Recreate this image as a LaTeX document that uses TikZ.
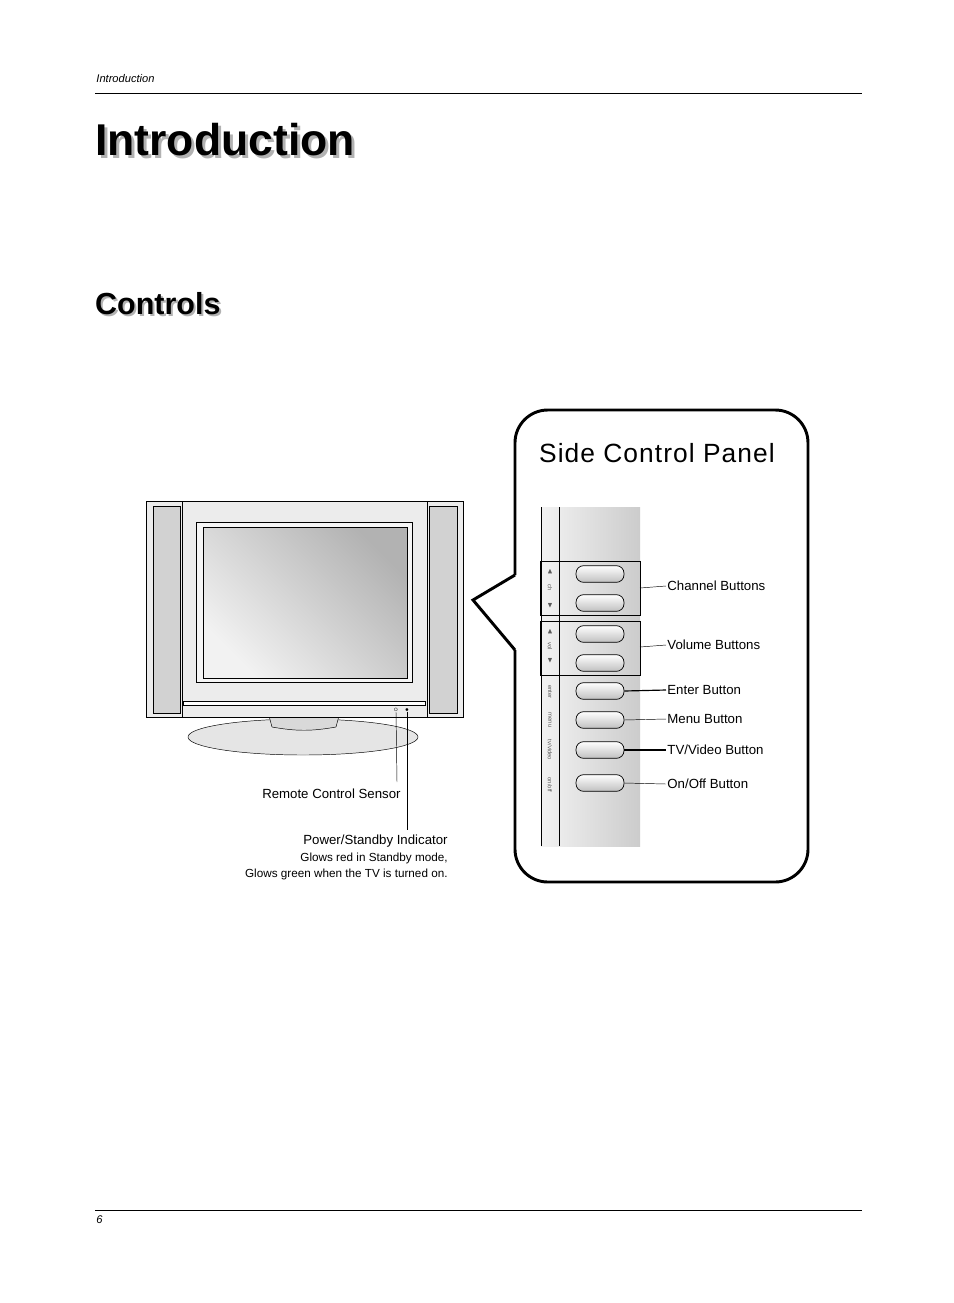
\documentclass[tikz,border=0pt]{standalone}
\usepackage{amssymb}
\usepackage{fontspec}
\setmainfont{Liberation Sans}
\begin{document}
\begin{tikzpicture}[x=0.03cm, y=-0.03cm,
        lbl/.style={font=\fontsize{11.3}{13}\selectfont, inner sep=1pt},
        small/.style={font=\fontsize{10}{12}\selectfont, inner sep=1pt},
        btn/.style={draw, rounded corners=6.5pt, minimum width=1.44cm, minimum height=0.5cm, top color=white, bottom color=gray!50, line width=0.6pt},
        tiny/.style={font=\fontsize{5}{6}\selectfont, rotate=-90, inner sep=0pt, text=gray!70!black},
        titletext/.style={font=\bfseries, anchor=west, inner sep=0pt}
        ]
    % page frame
    \path[use as bounding box, fill=white] (0,0) rectangle (954,1303);

    % header and footer
    \node[small, font=\fontsize{9.5}{11}\selectfont\itshape, anchor=west] (head) at (95,79) {Introduction};
    \draw[line width=0.5pt] (95,93) -- (862,93);
    \draw[line width=0.5pt] (95,1210) -- (862,1210);
    \node[small, font=\fontsize{9.5}{11}\selectfont\itshape, anchor=west] (foot) at (95,1220) {6};

    % titles
    \node[titletext, font=\fontsize{38}{42}\selectfont\bfseries, text=gray!60] at (98,143) {Introduction};
    \node[titletext, font=\fontsize{38}{42}\selectfont\bfseries] (title) at (95,140) {Introduction};
    \node[titletext, font=\fontsize{26}{30}\selectfont\bfseries, text=gray!60] at (97,306) {Controls};
    \node[titletext, font=\fontsize{26}{30}\selectfont\bfseries] (ctrl) at (95,304) {Controls};

    % stand
    \draw[fill=gray!20] (303,737) ellipse (115 and 18);
    \draw[fill=gray!30] (268,712) -- (272,727) to[bend right=10] (336,727) -- (340,712);

    % TV set
    \draw[line width=0.8pt, fill=gray!15] (146,501) rectangle (463,717);
    \draw[fill=gray!35] (153,506) rectangle (180,713);
    \draw[fill=gray!35] (429,506) rectangle (457,713);
    \draw (182,501) -- (182,717);
    \draw (427,501) -- (427,717);
    \draw[fill=gray!8] (196,522) rectangle (412,682);
    \draw[line width=0.8pt, top color=gray!10, bottom color=gray!60, shading angle=135] (203,527) rectangle (407,678);
    \draw[fill=white] (183,701) rectangle (425,705);
    \node[font=\fontsize{4}{5}\selectfont, inner sep=0pt] (sensor) at (396,710) {O};
    \node[font=\fontsize{4}{5}\selectfont, inner sep=0pt] (led) at (407,710) {$\bullet$};

    \node[lbl, anchor=east] (rcs) at (402,794) {Remote Control Sensor};
    \node[lbl, anchor=east] (psi) at (449,841) {Power/Standby Indicator};
    \node[small, anchor=east] (glow1) at (449,858) {Glows red in Standby mode,};
    \node[small, anchor=east] (glow2) at (449,874) {Glows green when the TV is turned on.};
    \draw (sensor.south) -- (397,782);
    \draw (led.south) -- (407,830);

    % callout
    \draw[line width=2.5pt, fill=white, rounded corners=28pt]
        (515,575) -- (515,410) -- (808,410) -- (808,882) -- (515,882) -- (515,650);
    \draw[line width=2.5pt, line join=miter] (515,575) -- (473,600) -- (515,650);
    \node[font=\fontsize{22.5}{26}\selectfont\addfontfeatures{LetterSpace=4}, anchor=west] (scp) at (535,453) {Side Control Panel};

    % side panel strip
    \shade[left color=gray!10, right color=gray!40] (541,507) rectangle (640,846);
    \draw[line width=0.8pt] (541,507) -- (541,846);
    \draw[line width=0.8pt] (559,507) -- (559,846);
    \draw[line width=0.8pt] (540,561) rectangle (640,615);
    \draw (540,621) rectangle (640,675);

    \node[btn] (ch1) at (600,574) {};
    \node[btn] (ch2) at (600,603) {};
    \node[btn] (vol1) at (600,634) {};
    \node[btn] (vol2) at (600,663) {};
    \node[btn] (enter) at (600,691) {};
    \node[btn] (menu) at (600,720) {};
    \node[btn] (tvv) at (600,750) {};
    \node[btn] (onoff) at (600,783) {};

    \node[tiny] at (550,572) {$\blacktriangleleft$};
    \node[tiny] at (550,588) {ch};
    \node[tiny] at (550,606) {$\blacktriangleright$};
    \node[tiny] at (550,632) {$\blacktriangleleft$};
    \node[tiny] at (550,646) {vol};
    \node[tiny] at (550,661) {$\blacktriangleright$};
    \node[tiny] at (550,692) {enter};
    \node[tiny] at (550,720) {menu};
    \node[tiny] at (550,750) {tv/video};
    \node[tiny] at (550,785) {on/off};

    % labels of the side panel
    \node[lbl, anchor=west] (chl) at (666,586) {Channel Buttons};
    \node[lbl, anchor=west] (voll) at (666,645) {Volume Buttons};
    \node[lbl, anchor=west] (entl) at (666,690) {Enter Button};
    \node[lbl, anchor=west] (menl) at (666,719) {Menu Button};
    \node[lbl, anchor=west] (tvl) at (666,750) {TV/Video Button};
    \node[lbl, anchor=west] (onl) at (666,784) {On/Off Button};

    \draw (640,588) -- (chl.west);
    \draw (640,647) -- (voll.west);
    \draw[line width=1pt] (enter.east) -- (entl.west);
    \draw (menu.east) -- (menl.west);
    \draw[line width=1pt] (tvv.east) -- (tvl.west);
    \draw (onoff.east) -- (onl.west);
\end{tikzpicture}
\end{document}
